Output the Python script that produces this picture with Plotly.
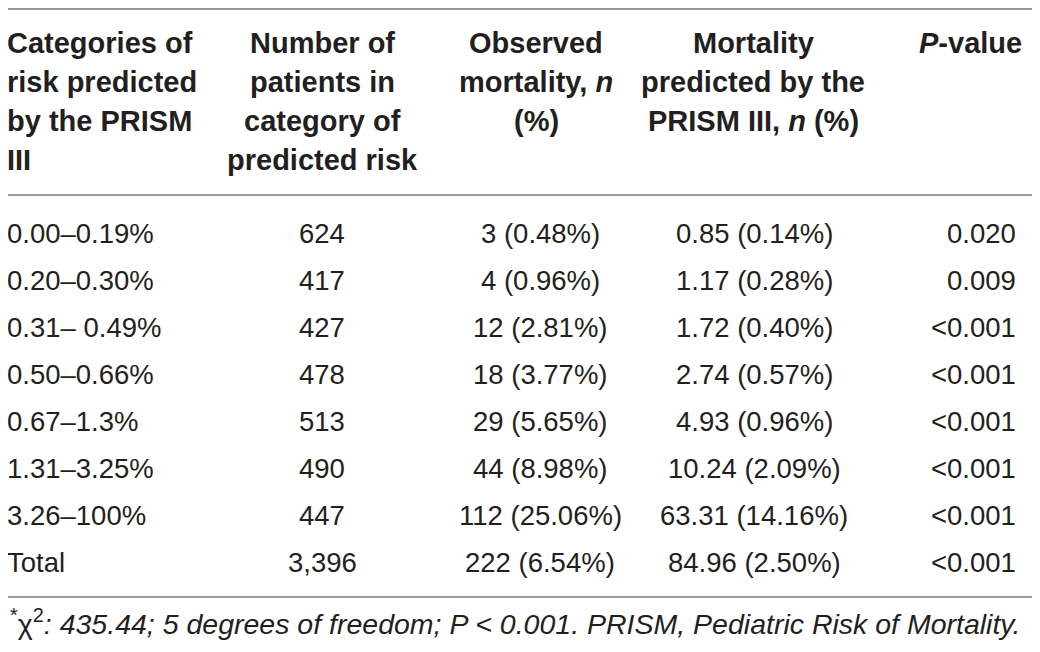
import plotly.graph_objects as go

# table content
header_cols = [
    ["Categories of", "risk predicted", "by the PRISM", "III"],
    ["Number of", "patients in", "category of", "predicted risk"],
    ["Observed", "mortality, <i>n</i>", "(%)"],
    ["Mortality", "predicted by the", "PRISM III, <i>n</i> (%)"],
    ["<i>P</i>-value"],
]
categories = ["0.00–0.19%", "0.20–0.30%", "0.31– 0.49%", "0.50–0.66%",
              "0.67–1.3%", "1.31–3.25%", "3.26–100%", "Total"]
patients = ["624", "417", "427", "478", "513", "490", "447", "3,396"]
observed = ["3 (0.48%)", "4 (0.96%)", "12 (2.81%)", "18 (3.77%)",
            "29 (5.65%)", "44 (8.98%)", "112 (25.06%)", "222 (6.54%)"]
predicted = ["0.85 (0.14%)", "1.17 (0.28%)", "1.72 (0.40%)", "2.74 (0.57%)",
             "4.93 (0.96%)", "10.24 (2.09%)", "63.31 (14.16%)", "84.96 (2.50%)"]
p_values = ["0.020", "0.009", "<0.001", "<0.001", "<0.001", "<0.001", "<0.001", "<0.001"]
footnote = ("<sup>*</sup>χ<sup>2</sup><i>: 435.44; 5 degrees of freedom; P < 0.001. "
            "PRISM, Pediatric Risk of Mortality.</i>")

# page is 1040x652, but the html body has an 8px margin -> map axes to page pixels
W, H, PAD = 1040, 652, 8
FONT = "Liberation Sans, Arial, Helvetica, sans-serif"
INK = "#231f20"
# (x, xanchor, xshift) per column
col_pos = [(PAD, "left", -3), (322, "center", 0), (540, "center", 0),
           (754, "center", 0), (1018, "right", 0)]
head_pos = [(PAD, "left", -3), (322, "center", 0), (536, "center", 0),
            (753, "center", 0), (1024, "right", 0)]
head_y0, head_dy = 43, 39
row_y0, row_dy = 233, 47

fig = go.Figure()
fig.add_scatter(x=[PAD, W], y=[PAD, H], mode="markers", marker=dict(opacity=0),
                hoverinfo="skip", showlegend=False)

ann = []
for (x, xa, xs), lines in zip(head_pos, header_cols):
    for k, line in enumerate(lines):
        ann.append(dict(x=x, y=head_y0 + k * head_dy, text=f"<b>{line}</b>",
                        xanchor=xa, xshift=xs, yanchor="middle", showarrow=False,
                        font=dict(size=29, color=INK, family=FONT)))

columns = [categories, patients, observed, predicted, p_values]
for (x, xa, xs), col in zip(col_pos, columns):
    for i, val in enumerate(col):
        ann.append(dict(x=x, y=row_y0 + i * row_dy, text=val,
                        xanchor=xa, xshift=xs, yanchor="middle", showarrow=False,
                        font=dict(size=27.5, color=INK, family=FONT)))

ann.append(dict(x=PAD, xshift=0, y=622, text=footnote, xanchor="left",
                yanchor="middle", showarrow=False,
                font=dict(size=28.5, color=INK, family=FONT)))

rules = [9, 195, 597]
shapes = [dict(type="line", x0=PAD, x1=W, y0=y, y1=y, xref="x", yref="y",
               line=dict(color="#9a9a9a", width=2)) for y in rules]

fig.update_layout(
    width=W - PAD, height=H - PAD, margin=dict(l=0, r=0, t=0, b=0),
    paper_bgcolor="white", plot_bgcolor="white",
    xaxis=dict(range=[PAD, W], visible=False, fixedrange=True),
    yaxis=dict(range=[H, PAD], visible=False, fixedrange=True),
    annotations=ann, shapes=shapes,
)
fig.write_html("out.html")
